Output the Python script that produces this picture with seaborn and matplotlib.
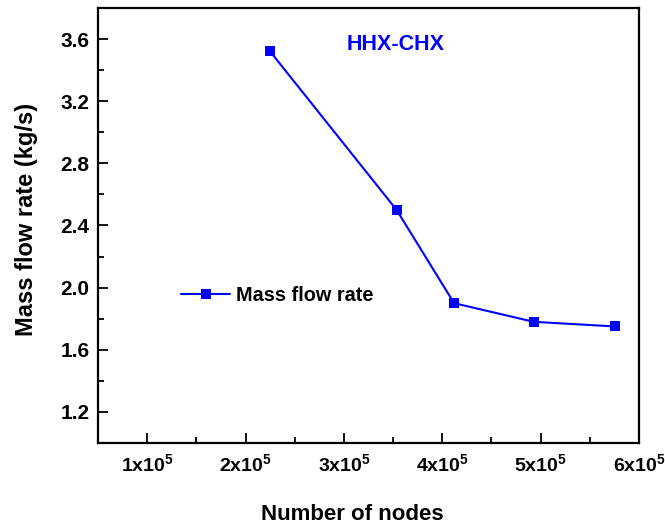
import matplotlib
matplotlib.use("Agg")
import matplotlib.pyplot as plt
import seaborn as sns
import pandas as pd
from matplotlib.ticker import MultipleLocator, FuncFormatter

nodes = [2.244e5, 3.536e5, 4.12e5, 4.93e5, 5.76e5]
mass_flow = [3.525, 2.50, 1.90, 1.78, 1.75]
series_name = "Mass flow rate"
x_label = "Number of nodes"
y_label = "Mass flow rate (kg/s)"
annotation = "HHX-CHX"

sns.set_theme(style="ticks")
plt.rcParams["font.family"] = ["Liberation Sans", "DejaVu Sans"]
plt.rcParams["font.weight"] = "bold"
plt.rcParams["text.color"] = "black"
plt.rcParams["axes.labelcolor"] = "black"
plt.rcParams["mathtext.fontset"] = "custom"
plt.rcParams["mathtext.rm"] = "Liberation Sans:bold"
plt.rcParams["mathtext.it"] = "Liberation Sans:bold"
plt.rcParams["mathtext.bf"] = "Liberation Sans:bold"

df = pd.DataFrame({"nodes": nodes, "flow": mass_flow, "series": series_name})

fig = plt.figure(figsize=(6.65, 5.27), dpi=100)
ax = fig.add_axes([98 / 665, 1 - 443 / 527, (639 - 98) / 665, (443 - 8) / 527])

sns.lineplot(data=df, x="nodes", y="flow", hue="series", palette=["#0000ff"],
             marker="s", markersize=6.5, markeredgewidth=0, linewidth=1.5, ax=ax)

ax.set_xlim(0.5e5, 6e5)
ax.set_ylim(1.0, 3.8)
ax.xaxis.set_major_locator(MultipleLocator(1e5))
ax.xaxis.set_minor_locator(MultipleLocator(0.5e5))
ax.yaxis.set_major_locator(MultipleLocator(0.4))
ax.yaxis.set_minor_locator(MultipleLocator(0.2))
ax.xaxis.set_major_formatter(FuncFormatter(lambda v, p: "" if v < 0.9e5 else f"{v/1e5:.0f}x10$^{{5}}$"))
ax.yaxis.set_major_formatter(FuncFormatter(lambda v, p: "" if v < 1.1 else f"{v:.1f}"))

ax.tick_params(axis="both", which="major", direction="in", length=7, width=1.3,
               color="black", labelcolor="black")
ax.tick_params(axis="x", which="major", labelsize=14, pad=7)
ax.tick_params(axis="y", which="major", labelsize=15, pad=6)
ax.tick_params(axis="both", which="minor", direction="in", length=4, width=1.3, color="black")
for lab in ax.get_xticklabels() + ax.get_yticklabels():
    lab.set_fontweight("bold")
for s in ax.spines.values():
    s.set_linewidth(1.6)
    s.set_color("black")

ax.set_xlabel(x_label, fontsize=16, fontweight="bold")
ax.set_ylabel(y_label, fontsize=17, fontweight="bold")
ax.xaxis.set_label_coords(0.47, -0.164)
ax.yaxis.set_label_coords(-0.132, 0.513)
ax.xaxis.label.set_va("center")
ax.yaxis.label.set_va("center")

ax.text(3.53e5, 3.565, annotation, color="#0000ff", fontsize=15.5, fontweight="bold",
        ha="center", va="center")

leg = ax.legend(loc="center left", bbox_to_anchor=(0.12, 0.34), frameon=False,
                fontsize=14.3, handlelength=2.5, handletextpad=0.3)
for t in leg.get_texts():
    t.set_fontweight("bold")
    t.set_color("black")

fig.savefig("out.png", dpi=100)
